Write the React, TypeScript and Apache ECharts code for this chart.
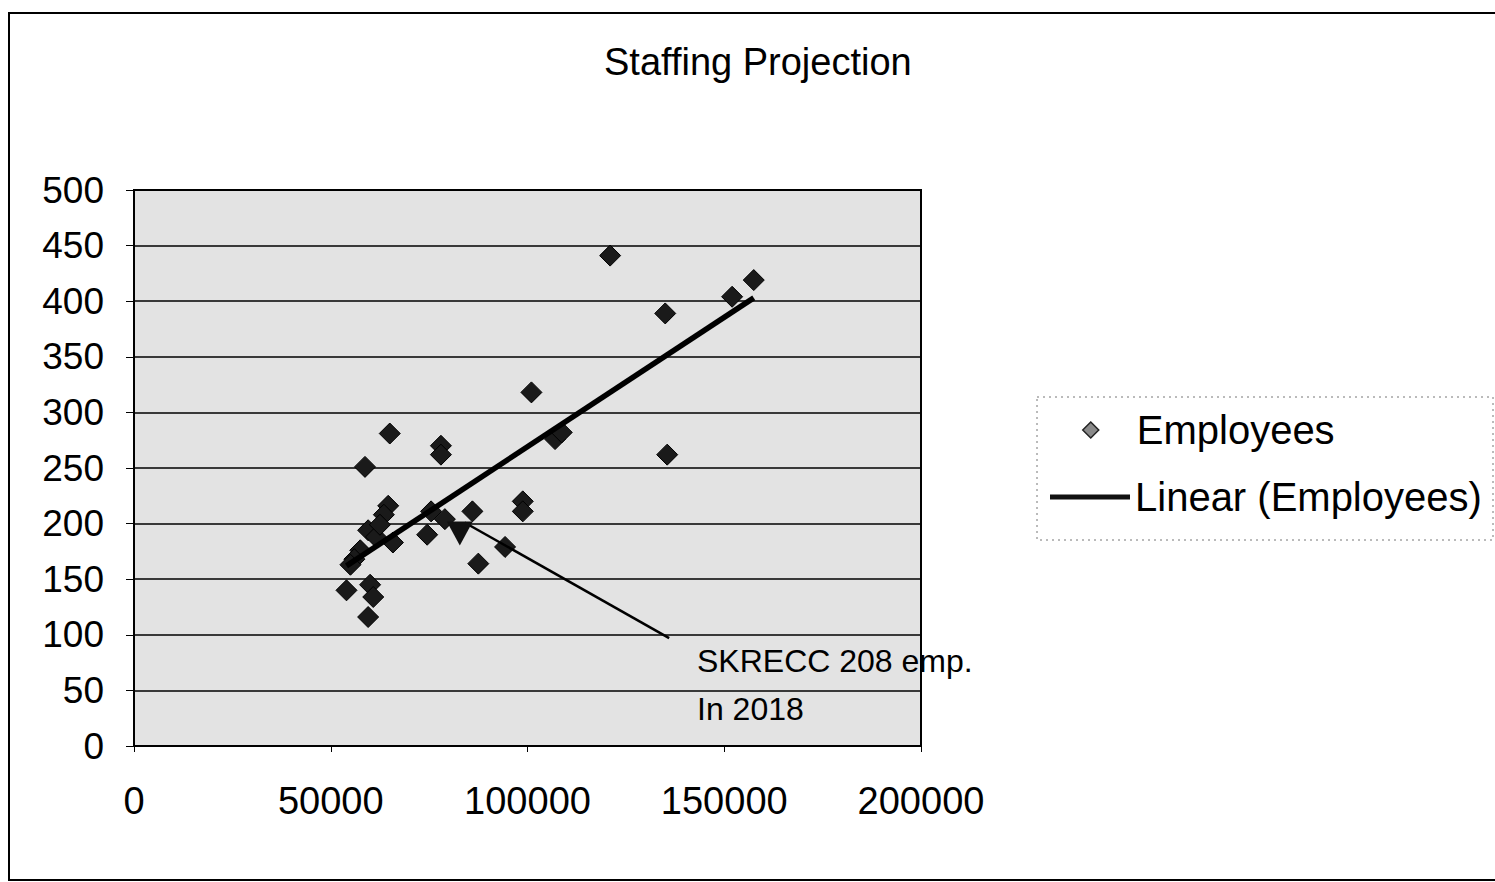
import React, { useEffect, useRef } from "react";
import * as echarts from "echarts";

// Employees scatter (revenue/customer count vs employees)
const empX = [
  121000, 157500, 152000, 135000, 101000, 65000, 107000, 108700, 78000, 78000,
  135500, 58700, 98800, 98800, 64600, 63500, 75500, 86000, 79000, 74500,
  65800, 94300, 87500, 54000, 60000, 60800, 59500, 59500, 61500, 62500,
  57500, 56000, 55000,
];
const empY = [
  441, 419, 404, 389, 318, 281, 276, 282, 270, 262,
  262, 251, 220, 211, 216, 208, 211, 211, 204, 190,
  183, 179, 164, 140, 145, 134, 116, 194, 188, 199,
  176, 168, 163,
];

// Linear trendline endpoints
const trendX = [54000, 157500];
const trendY = [162, 403];

// SKRECC highlighted point and annotation pointer
const skreccX = [82800];
const skreccY = [191];
const pointerX = [84000, 136000];
const pointerY = [201, 97];

const annotationLines = ["SKRECC 208 emp.", "In 2018"];
const titleText = "Staffing Projection";

const FONT = "'Liberation Sans', Arial, sans-serif";

export default function App() {
  const ref = useRef<HTMLDivElement>(null);

  useEffect(() => {
    document.body.style.margin = "0";
    if (!ref.current) return;
    const chart = echarts.init(ref.current, undefined, { renderer: "svg" });

    const option = {
      animation: false,
      backgroundColor: "#ffffff",
      title: {
        text: titleText,
        left: 604,
        top: 43,
        padding: 0,
        textStyle: { fontFamily: FONT, fontSize: 38, fontWeight: "normal", color: "#000" },
      },
      grid: {
        left: 134,
        top: 190,
        right: 574,
        bottom: 136,
        show: true,
        backgroundColor: "#e3e3e3",
        borderColor: "#000",
        borderWidth: 2,
      },
      legend: [
        {
          data: [{ name: "Employees", icon: "diamond" }],
          left: 1082,
          top: 410,
          padding: 0,
          itemWidth: 16,
          itemHeight: 16,
          itemStyle: { color: "#8a8a8a", borderColor: "#222", borderWidth: 1.5, opacity: 1 },
          textStyle: { fontFamily: FONT, fontSize: 40, color: "#000", padding: [0, 0, 0, 33] },
        },
        {
          data: [{ name: "Linear (Employees)", icon: "rect" }],
          left: 1050,
          top: 477,
          padding: 0,
          itemWidth: 80,
          itemHeight: 5,
          itemStyle: { color: "#111", borderWidth: 0 },
          lineStyle: { width: 0 },
          textStyle: { fontFamily: FONT, fontSize: 40, color: "#000" },
        },
      ],
      xAxis: {
        type: "value",
        min: 0,
        max: 200000,
        interval: 50000,
        splitLine: { show: false },
        axisLine: { show: true, lineStyle: { color: "#000", width: 2 } },
        axisTick: { show: true, length: 6, lineStyle: { color: "#000", width: 1 } },
        axisLabel: {
          fontFamily: FONT,
          fontSize: 38,
          color: "#000",
          margin: 36,
          formatter: (v: number) => String(v),
        },
      },
      yAxis: {
        type: "value",
        min: 0,
        max: 500,
        interval: 50,
        splitLine: { show: true, lineStyle: { color: "#000", width: 1.5 } },
        axisLine: { show: true, lineStyle: { color: "#000", width: 2 } },
        axisTick: { show: true, length: 8, lineStyle: { color: "#000", width: 1 } },
        axisLabel: { fontFamily: FONT, fontSize: 37, color: "#000", margin: 30 },
      },
      series: [
        {
          name: "Employees",
          type: "scatter",
          symbol: "diamond",
          symbolSize: 21,
          itemStyle: { color: "#1a1a1a", borderColor: "#000", borderWidth: 1, opacity: 1 },
          data: empX.map((x, i) => [x, empY[i]]),
          z: 3,
        },
        {
          name: "Linear (Employees)",
          type: "line",
          symbol: "none",
          lineStyle: { color: "#000", width: 5.5 },
          itemStyle: { color: "#000" },
          data: trendX.map((x, i) => [x, trendY[i]]),
          z: 4,
        },
        {
          name: "SKRECC",
          type: "scatter",
          symbol: "triangle",
          symbolRotate: 180,
          symbolSize: [26, 24],
          itemStyle: { color: "#111", opacity: 1 },
          data: skreccX.map((x, i) => [x, skreccY[i]]),
          z: 5,
        },
        {
          name: "pointer",
          type: "line",
          symbol: "none",
          lineStyle: { color: "#000", width: 2.5 },
          data: pointerX.map((x, i) => [x, pointerY[i]]),
          z: 5,
        },
      ],
      graphic: [
        {
          type: "rect",
          shape: { x: 9, y: 13, width: 1500, height: 867 },
          style: { fill: "none", stroke: "#000", lineWidth: 2 },
          silent: true,
        },
        {
          type: "rect",
          shape: { x: 1037, y: 397, width: 456, height: 143 },
          style: { fill: "none", stroke: "#777", lineWidth: 1, lineDash: [2, 4] },
          silent: true,
        },
        {
          type: "text",
          left: 697,
          top: 645,
          style: {
            text: annotationLines[0],
            font: `32px ${FONT}`,
            fill: "#000",
          },
          z: 10,
        },
        {
          type: "text",
          left: 697,
          top: 693,
          style: {
            text: annotationLines[1],
            font: `32px ${FONT}`,
            fill: "#000",
          },
          z: 10,
        },
      ],
    };

    chart.setOption(option as any);
    return () => chart.dispose();
  }, []);

  return <div ref={ref} style={{ width: 1495, height: 882 }} />;
}
